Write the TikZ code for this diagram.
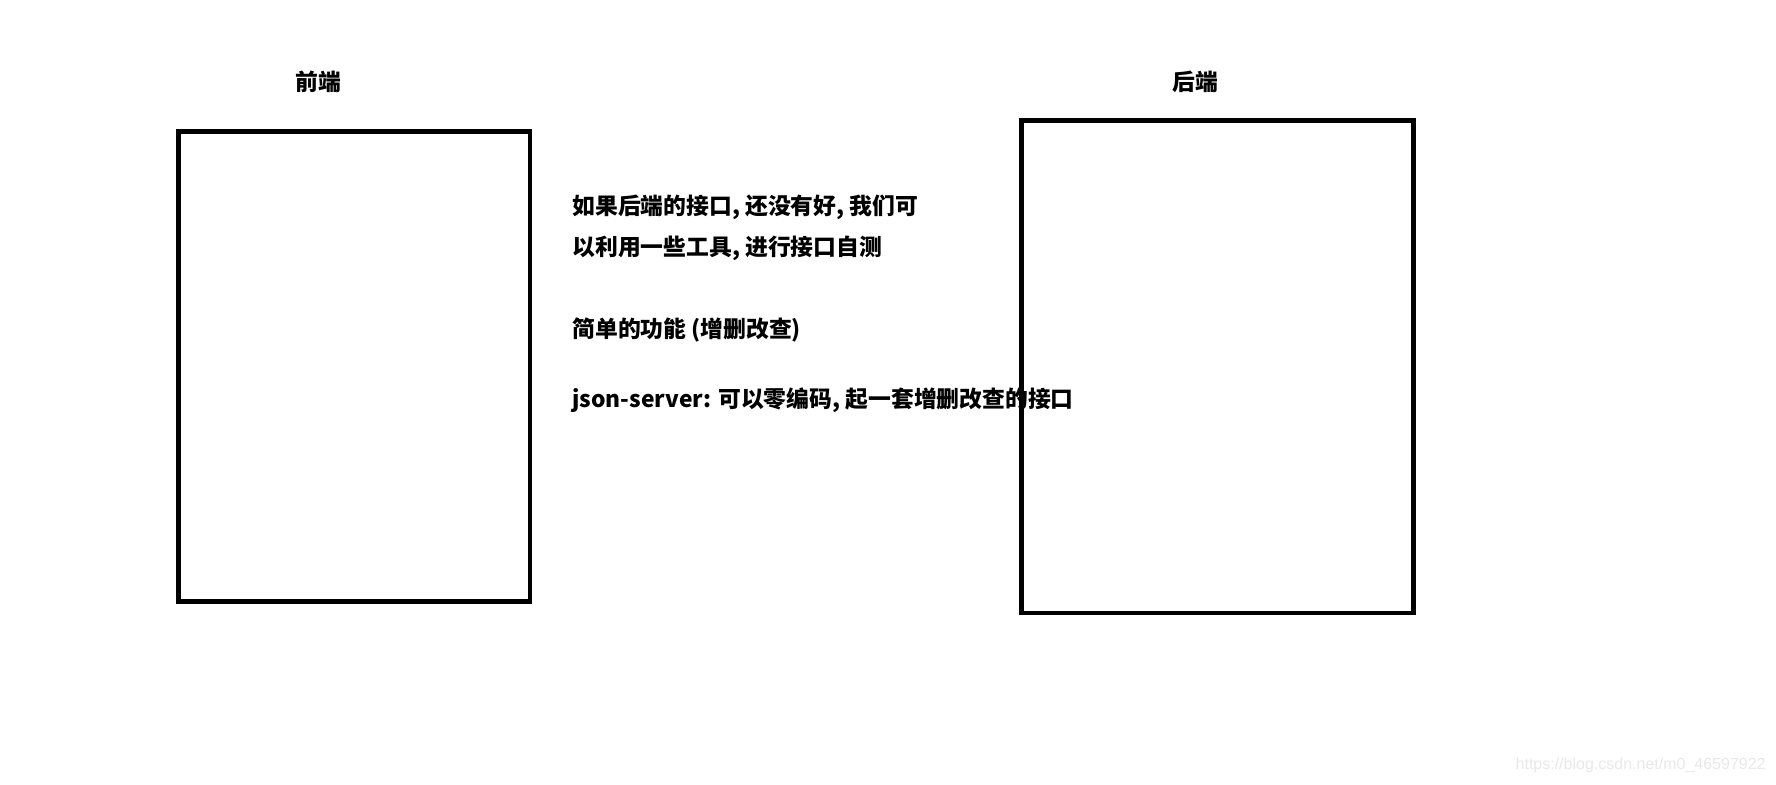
\documentclass[tikz,border=0pt]{standalone}
\usepackage{fontspec}
\newfontfamily\cjk{Noto Sans CJK SC}
\newfontfamily\wmfont{Liberation Sans}
\begin{document}
\begin{tikzpicture}[
x=0.5pt, y=-0.5pt,
every node/.style={
font=\cjk\bfseries\fontsize{11.4pt}{13pt}\selectfont,
inner sep=0pt
},
endbox/.style={
draw,
line width=2.35pt
},
note/.style={
anchor=west
}
]
\useasboundingbox (0,0) rectangle (1776,784);
\node (front label) at (318,82) {前端};
\node (back label) at (1195,82) {后端};
\node[note] (note1) at (572,207) {如果后端的接口, 还没有好, 我们可};
\node[note] (note2) at (572,248) {以利用一些工具, 进行接口自测};
\node[note] (note3) at (572,330) {简单的功能 (增删改查)};
\node[note] (note4) at (572,400) {json-server: 可以零编码, 起一套增删改查的接口};
\node[endbox, minimum width=175.75pt, minimum height=234.9pt] (front) at (354.25,366.4) {};
\node[endbox, minimum width=196pt, minimum height=246.25pt] (back) at (1217.5,366.75) {};
\node[anchor=east, text=black!9, font=\wmfont\fontsize{8pt}{10pt}\selectfont] (mark) at (1766,765) {https://blog.csdn.net/m0\_46597922};
\end{tikzpicture}
\end{document}
